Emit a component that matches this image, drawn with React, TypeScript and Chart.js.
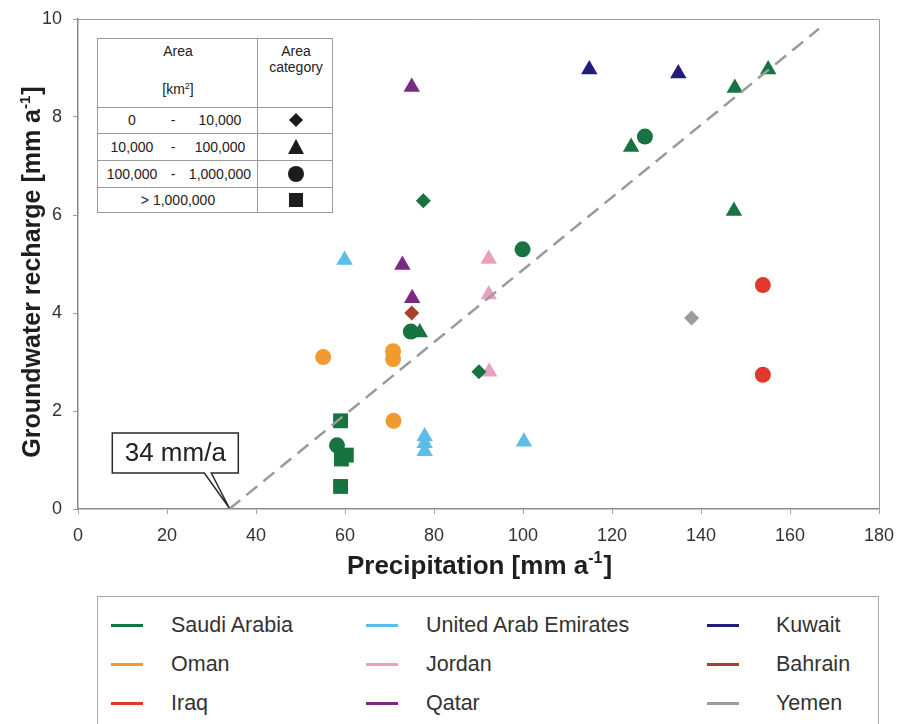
import React, { useEffect, useRef } from 'react';
import { Chart, registerables } from 'chart.js';

Chart.register(...registerables);

type Shape = 'd' | 't' | 'c' | 's';
type Pt = [number, number, Shape];

// Countries in legend order (row-major, 3 columns)
const countries = [
  'Saudi Arabia', 'United Arab Emirates', 'Kuwait',
  'Oman', 'Jordan', 'Bahrain',
  'Iraq', 'Qatar', 'Yemen',
];
const countryColors = [
  '#17733f', '#5bbde8', '#211c78',
  '#f09a30', '#eca0bf', '#a8412c',
  '#e1372c', '#7b2a84', '#9b9b9f',
];

// [precipitation mm/a, recharge mm/a, area category]
const saudiArabia: Pt[] = [
  [90.1, 2.8, 'd'], [77.6, 6.29, 'd'],
  [124.3, 7.39, 't'], [147.6, 8.59, 't'], [155.1, 8.97, 't'], [147.4, 6.08, 't'], [76.8, 3.6, 't'],
  [127.4, 7.6, 'c'], [99.9, 5.3, 'c'], [74.8, 3.62, 'c'], [58.2, 1.3, 'c'],
  [59.0, 1.8, 's'], [60.3, 1.1, 's'], [59.2, 1.02, 's'], [59.0, 0.46, 's'],
];
const unitedArabEmirates: Pt[] = [
  [59.9, 5.08, 't'], [77.9, 1.48, 't'], [77.9, 1.34, 't'], [77.9, 1.18, 't'], [100.2, 1.37, 't'],
];
const kuwait: Pt[] = [[114.9, 8.97, 't'], [134.9, 8.89, 't']];
const oman: Pt[] = [[55.1, 3.1, 'c'], [70.8, 3.22, 'c'], [70.8, 3.06, 'c'], [70.9, 1.8, 'c']];
const jordan: Pt[] = [[92.3, 5.1, 't'], [92.3, 4.38, 't'], [92.4, 2.8, 't']];
const bahrain: Pt[] = [[75.0, 4.0, 'd']];
const iraq: Pt[] = [[153.9, 4.57, 'c'], [153.9, 2.74, 'c']];
const qatar: Pt[] = [[75.0, 8.61, 't'], [72.9, 4.98, 't'], [75.1, 4.3, 't']];
const yemen: Pt[] = [[137.9, 3.9, 'd']];

const seriesPoints: Pt[][] = [
  saudiArabia, unitedArabEmirates, kuwait,
  oman, jordan, bahrain,
  iraq, qatar, yemen,
];

// Regression line (x-intercept at 34 mm/a)
const trendX = [34, 166.5];
const trendY = [0, 9.8];
const thresholdLabel = '34 mm/a';

// Axis titles: [main text, superscript, closing]
const xTitleParts = ['Precipitation [mm a', '-1', ']'];
const yTitleParts = ['Groundwater recharge [mm a', '-1', ']'];
const xMin = 0, xMax = 180, xStep = 20;
const yMin = 0, yMax = 10, yStep = 2;

// Inset table
const areaRanges: [string, string, string][] = [
  ['0', '-', '10,000'],
  ['10,000', '-', '100,000'],
  ['100,000', '-', '1,000,000'],
];
const areaLast = '> 1,000,000';
const areaShapes: Shape[] = ['d', 't', 'c', 's'];

const styleOf: Record<Shape, string> = { d: 'rectRot', t: 'triangle', c: 'circle', s: 'rect' };
const radiusOf: Record<Shape, number> = { d: 7.5, t: 9.5, c: 8, s: 10.5 };

const FONT = '"Liberation Sans", Arial, sans-serif';

const framePlugin = {
  id: 'frame',
  beforeDatasetsDraw(chart: any) {
    const { ctx, chartArea: a } = chart;
    ctx.save();
    ctx.strokeStyle = '#a0a0a0';
    ctx.lineWidth = 1;
    ctx.beginPath();
    ctx.moveTo(a.left, a.top + 0.5);
    ctx.lineTo(a.right + 0.5, a.top + 0.5);
    ctx.lineTo(a.right + 0.5, a.bottom);
    ctx.stroke();
    ctx.restore();
  },
};

function drawSupTitle(ctx: CanvasRenderingContext2D, parts: string[], size: number) {
  const main = `bold ${size}px ${FONT}`;
  const sup = `bold ${Math.round(size * 0.6)}px ${FONT}`;
  ctx.font = main;
  const w1 = ctx.measureText(parts[0]).width;
  const w3 = ctx.measureText(parts[2]).width;
  ctx.font = sup;
  const w2 = ctx.measureText(parts[1]).width + 1;
  const total = w1 + w2 + w3;
  let x = -total / 2;
  ctx.textAlign = 'left';
  ctx.textBaseline = 'alphabetic';
  ctx.font = main;
  ctx.fillText(parts[0], x, 0);
  x += w1;
  ctx.font = sup;
  ctx.fillText(parts[1], x, -size * 0.42);
  x += w2;
  ctx.font = main;
  ctx.fillText(parts[2], x, 0);
}

const titlesPlugin = {
  id: 'axisTitles',
  afterDraw(chart: any) {
    const { ctx, chartArea: a } = chart;
    ctx.save();
    ctx.fillStyle = '#1e1e1e';
    ctx.translate((a.left + a.right) / 2 + 1, a.bottom + 65);
    drawSupTitle(ctx, xTitleParts, 26);
    ctx.restore();

    ctx.save();
    ctx.fillStyle = '#1e1e1e';
    ctx.translate(40, (a.top + a.bottom) / 2 + 8);
    ctx.rotate(-Math.PI / 2);
    drawSupTitle(ctx, yTitleParts, 25);
    ctx.restore();
  },
};

const calloutPlugin = {
  id: 'callout',
  afterDatasetsDraw(chart: any) {
    const { ctx, scales } = chart;
    const tx = scales.x.getPixelForValue(trendX[0]);
    const ty = scales.y.getPixelForValue(trendY[0]) - 1;
    const bl = tx - 117, bt = ty - 75, bw = 126, bh = 40;
    ctx.save();
    ctx.fillStyle = '#ffffff';
    ctx.strokeStyle = '#2a2a2a';
    ctx.lineWidth = 1.5;
    ctx.beginPath();
    ctx.moveTo(bl, bt);
    ctx.lineTo(bl + bw, bt);
    ctx.lineTo(bl + bw, bt + bh);
    ctx.lineTo(tx - 18, bt + bh);
    ctx.lineTo(tx, ty);
    ctx.lineTo(tx - 25, bt + bh);
    ctx.lineTo(bl, bt + bh);
    ctx.closePath();
    ctx.fill();
    ctx.stroke();
    ctx.fillStyle = '#222';
    ctx.font = `26px ${FONT}`;
    ctx.textAlign = 'center';
    ctx.textBaseline = 'middle';
    ctx.fillText(thresholdLabel, bl + bw / 2, bt + bh / 2 + 1);
    ctx.restore();
  },
};

function Symbol({ shape }: { shape: Shape }) {
  const c = '#1c1c1c';
  if (shape === 'd') return <svg width="18" height="18"><polygon points="9,2 16,9 9,16 2,9" fill={c} /></svg>;
  if (shape === 't') return <svg width="18" height="18"><polygon points="9,1 17,16 1,16" fill={c} /></svg>;
  if (shape === 'c') return <svg width="18" height="18"><circle cx="9" cy="9" r="8" fill={c} /></svg>;
  return <svg width="18" height="18"><rect x="2" y="2" width="14" height="14" fill={c} /></svg>;
}

function AreaTable() {
  const rowCenters = [81, 108, 135, 161];
  const hLines = [68, 94, 121, 148];
  const abs = (left: number, top: number, extra: any = {}) => ({
    position: 'absolute' as const, left, top, transform: 'translate(-50%, -50%)', whiteSpace: 'nowrap' as const, ...extra,
  });
  return (
    <div style={{
      position: 'absolute', left: 97, top: 38, width: 236, height: 175,
      border: '1px solid #9a9a9a', background: '#fff', boxSizing: 'border-box',
      fontFamily: FONT, fontSize: 14, color: '#222',
    }}>
      <div style={{ position: 'absolute', left: 159, top: 0, width: 1, height: '100%', background: '#9a9a9a' }} />
      {hLines.map((t, i) => (
        <div key={i} style={{ position: 'absolute', left: 0, top: t, width: '100%', height: 1, background: '#9a9a9a' }} />
      ))}
      <div style={abs(80, 12)}>Area</div>
      <div style={abs(80, 50)}>[km<sup style={{ fontSize: 9 }}>2</sup>]</div>
      <div style={abs(198, 12)}>Area</div>
      <div style={abs(198, 28)}>category</div>
      {areaRanges.map((r, i) => (
        <React.Fragment key={i}>
          <div style={abs(34, rowCenters[i])}>{r[0]}</div>
          <div style={abs(75, rowCenters[i])}>{r[1]}</div>
          <div style={abs(122, rowCenters[i])}>{r[2]}</div>
        </React.Fragment>
      ))}
      <div style={abs(80, rowCenters[3])}>{areaLast}</div>
      {areaShapes.map((s, i) => (
        <div key={s} style={abs(198, rowCenters[i], { height: 18, lineHeight: 0 })}><Symbol shape={s} /></div>
      ))}
    </div>
  );
}

function Legend() {
  const colLine = [13, 268, 609];
  const colText = [73, 328, 678];
  const rowY = [28, 67, 106];
  return (
    <div style={{
      position: 'absolute', left: 97, top: 596, width: 782, height: 140,
      border: '1px solid #a8a8a8', boxSizing: 'border-box', background: '#fff',
      fontFamily: FONT, fontSize: 21.5, color: '#333',
    }}>
      {countries.map((name, i) => {
        const col = i % 3, row = Math.floor(i / 3);
        return (
          <React.Fragment key={name}>
            <div style={{
              position: 'absolute', left: colLine[col], top: rowY[row] - 1.5,
              width: 32, height: 3, background: countryColors[i],
            }} />
            <div style={{
              position: 'absolute', left: colText[col], top: rowY[row],
              transform: 'translateY(-50%)', whiteSpace: 'nowrap',
            }}>{name}</div>
          </React.Fragment>
        );
      })}
    </div>
  );
}

export default function App() {
  const canvasRef = useRef<HTMLCanvasElement | null>(null);

  useEffect(() => {
    const canvas = canvasRef.current;
    if (!canvas) return;

    const scatterSets = seriesPoints.map((pts, i) => ({
      label: countries[i],
      data: pts.map(([x, y, shape]) => ({ x, y, shape })),
      backgroundColor: countryColors[i],
      borderColor: countryColors[i],
      borderWidth: 0,
      pointStyle: (c: any) => styleOf[(c.raw && c.raw.shape) as Shape] || 'circle',
      pointRadius: (c: any) => radiusOf[(c.raw && c.raw.shape) as Shape] || 8,
      pointHoverRadius: (c: any) => radiusOf[(c.raw && c.raw.shape) as Shape] || 8,
    }));

    const trendSet = {
      label: 'trend',
      data: trendX.map((x, i) => ({ x, y: trendY[i] })),
      showLine: true,
      borderColor: '#9a9a9a',
      borderWidth: 2.5,
      borderDash: [14, 8],
      pointRadius: 0,
      fill: false,
    };

    const chart = new Chart(canvas, {
      type: 'scatter',
      data: { datasets: [trendSet as any, ...scatterSets] },
      options: {
        animation: false,
        responsive: false,
        layout: { padding: { left: 0, top: 19, right: 19, bottom: 0 } },
        plugins: { legend: { display: false }, tooltip: { enabled: false } },
        scales: {
          x: {
            type: 'linear',
            min: xMin, max: xMax,
            ticks: { stepSize: xStep, color: '#333', font: { family: FONT, size: 18 }, padding: 11 },
            grid: { drawOnChartArea: false, drawTicks: true, tickLength: 5, color: '#a0a0a0' },
            border: { display: true, color: '#8a8a8a', width: 1.5 },
            afterFit: (s: any) => { s.height = 215; s.paddingRight = 0; s.paddingLeft = 0; },
          },
          y: {
            type: 'linear',
            min: yMin, max: yMax,
            ticks: { stepSize: yStep, color: '#333', font: { family: FONT, size: 18 }, padding: 11 },
            grid: { drawOnChartArea: false, drawTicks: true, tickLength: 5, color: '#a0a0a0' },
            border: { display: true, color: '#8a8a8a', width: 1.5 },
            afterFit: (s: any) => { s.width = 78; s.paddingTop = 0; s.paddingBottom = 0; },
          },
        },
      } as any,
      plugins: [framePlugin, calloutPlugin, titlesPlugin],
    });

    return () => chart.destroy();
  }, []);

  return (
    <div style={{ position: 'absolute', left: 0, top: 0, width: 898, height: 724, background: '#fff', overflow: 'hidden' }}>
      <canvas ref={canvasRef} width={898} height={724} style={{ display: 'block' }} />
      <AreaTable />
      <Legend />
    </div>
  );
}
